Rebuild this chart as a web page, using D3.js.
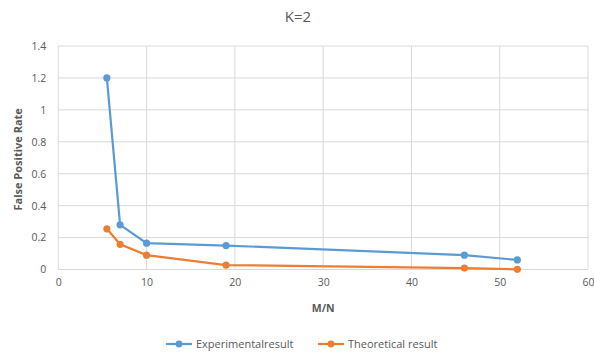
<!DOCTYPE html>
<html>
<head>
<meta charset="utf-8">
<script src="https://cdn.jsdelivr.net/npm/d3@7"></script>
<style>
  body { margin: 0; background: #fff; }
  text { font-family: 'Open Sans', sans-serif; fill: #595959; }
</style>
</head>
<body>
<div id="chart"></div>
<script>
const title = 'K=2'
const xLabel = 'M/N'
const yLabel = 'False Positive Rate'
const xTicks = [0, 10, 20, 30, 40, 50, 60]
const yTicks = [0, 0.2, 0.4, 0.6, 0.8, 1, 1.2, 1.4]

const mn = [5.5, 7, 10, 19, 46, 52]
const experimental = [1.2, 0.28, 0.165, 0.15, 0.09, 0.06]
const theoretical = [0.255, 0.158, 0.09, 0.028, 0.009, 0.001]

const seriesNames = ['Experimentalresult', 'Theoretical result']
const colors = ['#5B9BD5', '#ED7D31']

const width = 594, height = 352
const margin = {top: 46, right: 6, bottom: 82.5, left: 58.3}
const innerW = width - margin.left - margin.right
const innerH = height - margin.top - margin.bottom

let svg = d3.select('#chart').append('svg')
  .attr('width', width)
  .attr('height', height)

let x = d3.scaleLinear().domain([0, 60]).range([margin.left, margin.left + innerW])
let y = d3.scaleLinear().domain([0, 1.4]).range([margin.top + innerH, margin.top])

// gridlines
svg.append('g').selectAll('line.v')
  .data(xTicks)
  .enter().append('line')
  .attr('x1', d => x(d)).attr('x2', d => x(d))
  .attr('y1', y(0)).attr('y2', y(1.4))
  .attr('stroke', '#d9d9d9').attr('stroke-width', 1)
svg.append('g').selectAll('line.h')
  .data(yTicks)
  .enter().append('line')
  .attr('x1', x(0)).attr('x2', x(60))
  .attr('y1', d => y(d)).attr('y2', d => y(d))
  .attr('stroke', '#d9d9d9').attr('stroke-width', 1)

// axes labels
let xAxis = svg.append('g')
  .attr('transform', 'translate(0,' + y(0) + ')')
  .call(d3.axisBottom(x).tickValues(xTicks).tickSize(0).tickPadding(9))
let yAxis = svg.append('g')
  .attr('transform', 'translate(' + x(0) + ',0)')
  .call(d3.axisLeft(y).tickValues(yTicks).tickSize(0).tickPadding(12).tickFormat(d3.format('~g')))
xAxis.select('.domain').remove()
yAxis.select('.domain').remove()
svg.selectAll('.tick text').attr('font-size', 10.5).attr('fill', '#595959')
  .style('font-family', "'Open Sans', sans-serif")

// titles
svg.append('text')
  .attr('x', 298).attr('y', 22)
  .attr('text-anchor', 'middle')
  .attr('font-size', 15)
  .text(title)

svg.append('text')
  .attr('x', x(30)).attr('y', 312)
  .attr('text-anchor', 'middle')
  .attr('font-size', 10.5).attr('font-weight', 'bold')
  .text(xLabel)

svg.append('text')
  .attr('transform', 'translate(22,' + y(0.69) + ') rotate(-90)')
  .attr('text-anchor', 'middle')
  .attr('font-size', 11).attr('font-weight', 'bold')
  .text(yLabel)

// series
let series = [experimental, theoretical]
let line = d3.line()
  .x((d, i) => x(mn[i]))
  .y(d => y(d))

series.forEach((values, k) => {
  svg.append('path')
    .datum(values)
    .attr('fill', 'none')
    .attr('stroke', colors[k])
    .attr('stroke-width', 2.2)
    .attr('d', line)
  svg.append('g').selectAll('circle')
    .data(values)
    .enter().append('circle')
    .attr('cx', (d, i) => x(mn[i]))
    .attr('cy', d => y(d))
    .attr('r', 3.6)
    .attr('fill', colors[k])
})

// legend
let legendX = [166, 318]
seriesNames.forEach((name, k) => {
  let g = svg.append('g').attr('transform', 'translate(' + legendX[k] + ',344)')
  g.append('line')
    .attr('x1', 0).attr('x2', 26)
    .attr('stroke', colors[k]).attr('stroke-width', 2.2)
  g.append('circle').attr('cx', 13).attr('r', 3.4).attr('fill', colors[k])
  g.append('text')
    .attr('x', 30).attr('y', 3.8)
    .attr('font-size', 11)
    .text(name)
})
</script>
</body>
</html>
